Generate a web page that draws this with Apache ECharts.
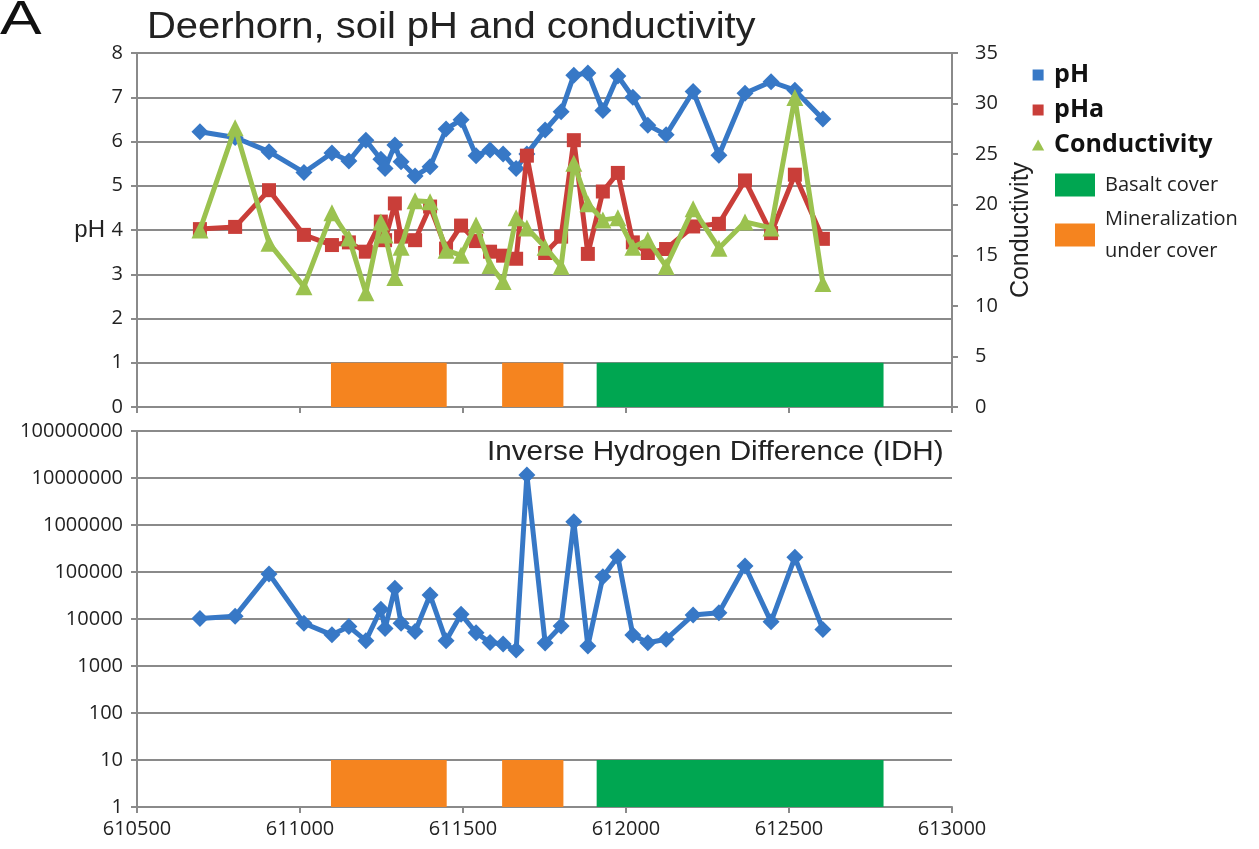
<!DOCTYPE html>
<html>
<head>
<meta charset="utf-8">
<script src="https://cdn.jsdelivr.net/npm/echarts@6/dist/echarts.min.js"></script>
<style>
  html, body { margin: 0; padding: 0; background: #ffffff; }
  #chart { width: 1259px; height: 849px; }
</style>
</head>
<body>
<div id="chart"></div>
<script>
// Sample positions (easting, m) along the Deerhorn traverse
const easting = [610693, 610801, 610905, 611012, 611098, 611150, 611202, 611248, 611261, 611291,
                 611310, 611353, 611399, 611448, 611494, 611540, 611583, 611623, 611663, 611696,
                 611752, 611801, 611840, 611883, 611929, 611975, 612021, 612067, 612123, 612206,
                 612285, 612365, 612445, 612518, 612604];

// Soil pH (water)
const pH = [6.22, 6.09, 5.77, 5.30, 5.74, 5.56, 6.03, 5.60, 5.39, 5.92,
            5.54, 5.22, 5.43, 6.28, 6.49, 5.68, 5.81, 5.72, 5.39, 5.72,
            6.26, 6.67, 7.50, 7.55, 6.70, 7.48, 7.00, 6.37, 6.15, 7.13,
            5.69, 7.09, 7.35, 7.16, 6.51];

// Soil pH after acidification
const pHa = [4.02, 4.07, 4.90, 3.89, 3.66, 3.72, 3.51, 4.19, 3.77, 4.60,
             3.85, 3.77, 4.53, 3.58, 4.10, 3.75, 3.51, 3.42, 3.35, 5.68,
             3.48, 3.85, 6.03, 3.46, 4.87, 5.29, 3.72, 3.48, 3.57, 4.08,
             4.14, 5.12, 3.93, 5.25, 3.80];

// Conductivity
const conductivity = [17.5, 27.6, 16.2, 11.9, 19.2, 16.7, 11.3, 18.3, 17.0, 12.8,
                      15.8, 20.4, 20.3, 15.5, 15.0, 18.0, 14.0, 12.4, 18.7, 17.7,
                      15.8, 13.9, 24.1, 20.1, 18.5, 18.7, 15.8, 16.5, 13.9, 19.6,
                      15.7, 18.3, 17.7, 30.6, 12.2];

// Inverse Hydrogen Difference
const idh = [10200, 11500, 91000, 8100, 4600, 6900, 3460, 16100, 6300, 45000,
             8100, 5400, 32400, 3460, 12600, 5100, 3150, 2950, 2190, 11600000,
             3100, 7100, 1170000, 2680, 79000, 212000, 4560, 3130, 3700, 12200,
             13600, 134000, 8700, 205000, 6000];

// Geology along the traverse (easting from, to)
const mineralization = [[611095, 611450], [611620, 611808]];
const basaltCover = [[611910, 612790]];

const BLUE = '#3778c6';
const RED = '#c93e39';
const GREEN = '#9bc24f';
const ORANGE = '#f5841f';
const BASALT = '#00a651';
const GRID = '#8a8a8a';
const TEXT = '#222222';

const tickFont = { fontFamily: 'Open Sans', fontSize: 20, color: TEXT };

function pairs(ys) { return easting.map((x, i) => [x, ys[i]]); }

// Band drawn between two y values of the given axes
function band(name, ranges, color, xi, yi, yLow, yHigh) {
  return {
    name: name,
    type: 'custom',
    xAxisIndex: xi,
    yAxisIndex: yi,
    z: 1,
    silent: true,
    itemStyle: { color: color },
    encode: { x: [0, 1] },
    data: ranges,
    renderItem: function (params, api) {
      const p0 = api.coord([api.value(0), yHigh]);
      const p1 = api.coord([api.value(1), yLow]);
      return {
        type: 'rect',
        shape: { x: p0[0], y: p0[1], width: p1[0] - p0[0], height: p1[1] - p0[1] },
        style: { fill: color }
      };
    }
  };
}

const axisLine = { show: true, onZero: false, lineStyle: { color: GRID, width: 2 } };
const axisTick = { show: true, inside: false, length: 6, lineStyle: { color: GRID, width: 2 } };
const splitLine = { show: true, lineStyle: { color: GRID, width: 2 } };

const chart = echarts.init(document.getElementById('chart'));

chart.setOption({
  animation: false,
  backgroundColor: '#ffffff',
  graphic: [
    { type: 'text', x: 0, y: -3, scaleX: 1.3,
      style: { text: 'A', font: '48px "Liberation Sans"', fill: '#111' } },
    { type: 'text', x: 147, y: 10, scaleX: 1.11,
      style: { text: 'Deerhorn, soil pH and conductivity', font: '36px "Liberation Sans"', fill: TEXT } },
    { type: 'text', x: 487, y: 439, scaleX: 1.1,
      style: { text: 'Inverse Hydrogen Difference (IDH)', font: '27px "Liberation Sans"', fill: TEXT } }
  ],
  legend: [
    {
      orient: 'vertical', left: 1027, top: 53,
      itemWidth: 22, itemHeight: 11, itemGap: 1,
      selectedMode: false,
      textStyle: { fontFamily: 'Open Sans', fontWeight: 'bold', fontSize: 25, color: '#111', lineHeight: 34 },
      data: [
        { name: 'pH', icon: 'path://M0,0h10v10h-10z' },
        { name: 'pHa', icon: 'path://M0,0h10v10h-10z' },
        { name: 'Conductivity', icon: 'path://M5,0L10,9L0,9Z' }
      ]
    },
    {
      orient: 'vertical', left: 1050, top: 164,
      itemWidth: 50, itemHeight: 23, itemGap: 2,
      selectedMode: false,
      icon: 'path://M0,0h40v23h-40z',
      textStyle: { fontFamily: 'Open Sans', fontSize: 20, color: TEXT, lineHeight: 32 },
      formatter: function (name) {
        return name === 'Mineralization under cover' ? 'Mineralization\nunder cover' : name;
      },
      data: ['Basalt cover', 'Mineralization under cover']
    }
  ],
  grid: [
    { left: 137, right: 307, top: 53, height: 354 },
    { left: 137, right: 307, top: 431, height: 376 }
  ],
  xAxis: [
    {
      gridIndex: 0, type: 'value', min: 610500, max: 613000, interval: 500,
      axisLine: axisLine, axisTick: axisTick,
      axisLabel: { show: false }, splitLine: { show: false }
    },
    {
      gridIndex: 1, type: 'value', min: 610500, max: 613000, interval: 500,
      axisLine: axisLine, axisTick: axisTick,
      axisLabel: Object.assign({ margin: 12, formatter: v => String(v) }, tickFont),
      splitLine: { show: false }
    }
  ],
  yAxis: [
    {
      gridIndex: 0, type: 'value', min: 0, max: 8, interval: 1,
      name: 'pH', nameLocation: 'middle', nameRotate: 0, nameGap: 32,
      nameTextStyle: { fontFamily: 'Liberation Sans', fontSize: 24, color: TEXT, align: 'right' },
      axisLine: axisLine, axisTick: axisTick,
      axisLabel: Object.assign({ margin: 14 }, tickFont),
      splitLine: splitLine
    },
    {
      gridIndex: 0, type: 'value', position: 'right', min: 0, max: 35, interval: 5,
      name: 'Conductivity', nameLocation: 'middle', nameRotate: 90, nameGap: 50,
      nameTextStyle: { fontFamily: 'Liberation Sans', fontSize: 25, color: TEXT },
      axisLine: axisLine, axisTick: axisTick,
      axisLabel: Object.assign({ margin: 23 }, tickFont),
      splitLine: { show: false }
    },
    {
      gridIndex: 1, type: 'log', logBase: 10, min: 1, max: 100000000,
      axisLine: axisLine, axisTick: axisTick,
      axisLabel: Object.assign({ margin: 14, formatter: v => String(Math.round(v)) }, tickFont),
      splitLine: splitLine
    }
  ],
  series: [
    band('Mineralization under cover', mineralization, ORANGE, 0, 0, 0, 1),
    band('Basalt cover', basaltCover, BASALT, 0, 0, 0, 1),
    band('Mineralization under cover', mineralization, ORANGE, 1, 2, 1, 10),
    band('Basalt cover', basaltCover, BASALT, 1, 2, 1, 10),
    {
      name: 'pH', type: 'line', xAxisIndex: 0, yAxisIndex: 0, z: 3,
      data: pairs(pH), symbol: 'diamond', symbolSize: 17,
      lineStyle: { color: BLUE, width: 5 }, itemStyle: { color: BLUE }
    },
    {
      name: 'pHa', type: 'line', xAxisIndex: 0, yAxisIndex: 0, z: 4,
      data: pairs(pHa), symbol: 'rect', symbolSize: 14,
      lineStyle: { color: RED, width: 5 }, itemStyle: { color: RED }
    },
    {
      name: 'Conductivity', type: 'line', xAxisIndex: 0, yAxisIndex: 1, z: 5,
      data: pairs(conductivity), symbol: 'triangle', symbolSize: 17,
      lineStyle: { color: GREEN, width: 5 }, itemStyle: { color: GREEN }
    },
    {
      name: 'IDH', type: 'line', xAxisIndex: 1, yAxisIndex: 2, z: 3,
      data: pairs(idh), symbol: 'diamond', symbolSize: 17,
      lineStyle: { color: BLUE, width: 5 }, itemStyle: { color: BLUE }
    }
  ]
});
</script>
</body>
</html>
